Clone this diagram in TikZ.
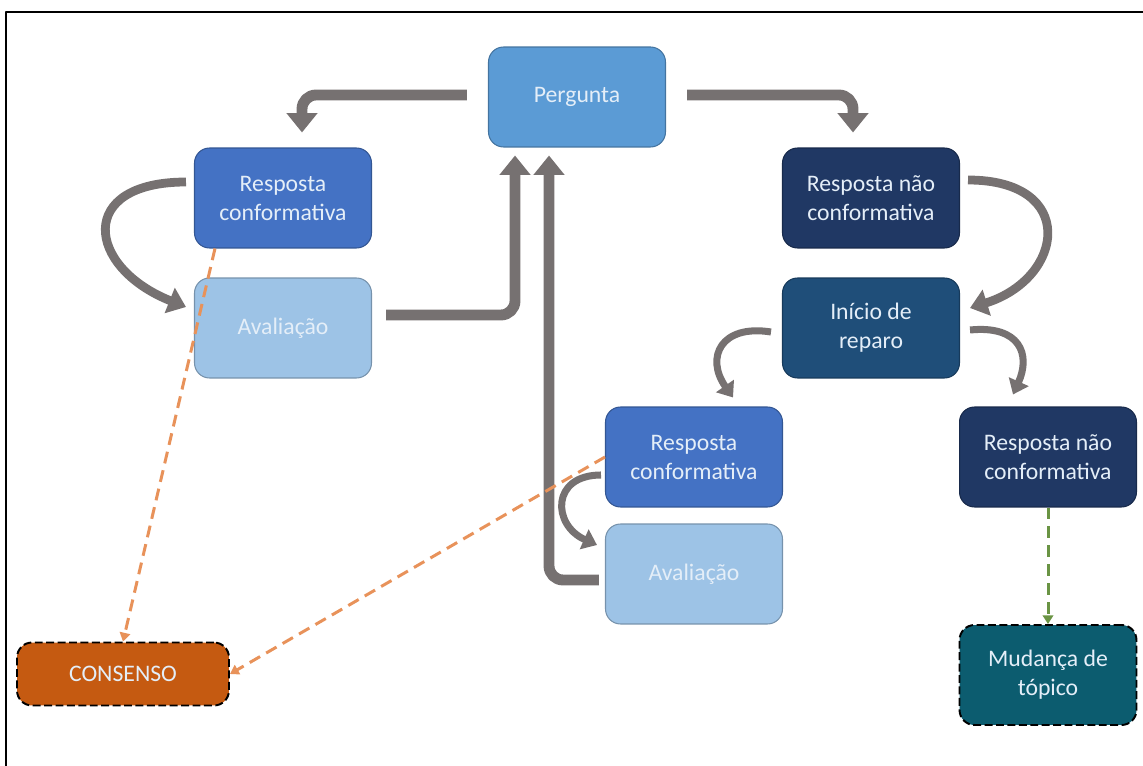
\documentclass[tikz,border=0pt]{standalone}
\usepackage{fontspec}
\setmainfont{Carlito}
\usetikzlibrary{arrows.meta,calc}
\definecolor{cPerg}{HTML}{5B9BD5}
\definecolor{cConf}{HTML}{4472C4}
\definecolor{cAval}{HTML}{9DC3E6}
\definecolor{cNao}{HTML}{203864}
\definecolor{cIni}{HTML}{1F4E79}
\definecolor{cCons}{HTML}{C55A11}
\definecolor{cMud}{HTML}{0C5C6F}
\definecolor{cSeta}{HTML}{767171}
\definecolor{cLaranja}{HTML}{E8925A}
\definecolor{cVerde}{HTML}{6A9444}
\definecolor{cTxt}{HTML}{E4EEF8}
\begin{document}
\begin{tikzpicture}[x=0.02cm, y=-0.02cm, font=\fontsize{13.5}{16.5}\selectfont, line join=round,
	box/.style={rounded corners=0.3cm, minimum width=3.54cm, minimum height=2cm, align=center, text=cTxt, fill=#1, draw=#1!75!black, line width=0.6pt},
	fim/.style={box=#1, draw=black, dashed, dash pattern=on 4.5pt off 2pt, line width=1.1pt},
	reta/.style={draw=cSeta, line width=6.2pt, rounded corners=8pt, -{Triangle[width=17pt,length=11pt]}},
	curva/.style={draw=cSeta, line width=#1, -{Triangle[width=3*#1,length=2*#1]}},
	tracejado/.style={draw=#1, line width=1.7pt, dash pattern=on 6.8pt off 4pt, -{Triangle[width=6pt,length=5pt]}}]
	\useasboundingbox (0,0) rectangle (1143,766);
	\draw[line width=1.2pt] (6,766) -- (6,12) -- (1143,12);
	% caixas
	\node[box=cPerg] (perg) at (577,97) {Pergunta};
	\node[box=cConf] (respL) at (283,198) {Resposta\\conformativa};
	\node[box=cAval] (avalL) at (283,328) {Avaliação};
	\node[box=cNao] (respNC) at (871,198) {Resposta não\\conformativa};
	\node[box=cIni] (inicio) at (871,328) {Início de\\reparo};
	\node[box=cConf] (respM) at (694,457) {Resposta\\conformativa};
	\node[box=cAval] (avalM) at (694,574) {Avaliação};
	\node[box=cNao] (respNC2) at (1048,457) {Resposta não\\conformativa};
	\node[fim=cCons, minimum width=4.24cm, minimum height=1.26cm] (consenso) at (123,674) {CONSENSO};
	\node[fim=cMud] (mudanca) at (1048,675) {Mudança de\\tópico};
	% setas cinzentas
	\draw[reta] ($(perg.west)+(-21,-2)$) -| ($(respL.north)+(19,-15)$);
	\draw[reta] ($(perg.east)+(21,-2)$) -| ($(respNC.north)+(-18,-15)$);
	\draw[reta] ($(avalL.east)+(14,-13)$) -| ($(perg.south)+(-62,8)$);
	\draw[reta] ($(avalM.west)+(-6,6)$) -| ($(perg.south)+(-28,8)$);
	\draw[curva=5pt] ($(respL.west)+(-8,-16)$) .. controls +(-110,0) and +(-100,-40) .. ($(avalL.west)+(-8,-21)$);
	\draw[curva=5pt] ($(respNC.east)+(8,-18)$) .. controls +(110,0) and +(95,-30) .. ($(inicio.east)+(10,-20)$);
	\draw[curva=4pt] ($(inicio.west)+(-11,4)$) .. controls +(-50,-8) and +(-28,-40) .. ($(respM.north)+(39,-9)$);
	\draw[curva=4pt] ($(inicio.east)+(10,2)$) .. controls +(50,-5) and +(18,-40) .. ($(respNC2.north)+(-35,-12)$);
	\draw[curva=4pt] ($(respM.west)+(-4,18)$) .. controls +(-50,0) and +(-45,-20) .. ($(avalM.west)+(-8,-29)$);
	% tracejadas
	\draw[tracejado=cLaranja] ($(respL.south)+(-68,0)$) -- (consenso.north);
	\draw[tracejado=cLaranja] (respM.west) -- (consenso.east);
	\draw[tracejado=cVerde] (respNC2.south) -- (mudanca.north);
\end{tikzpicture}
\end{document}
